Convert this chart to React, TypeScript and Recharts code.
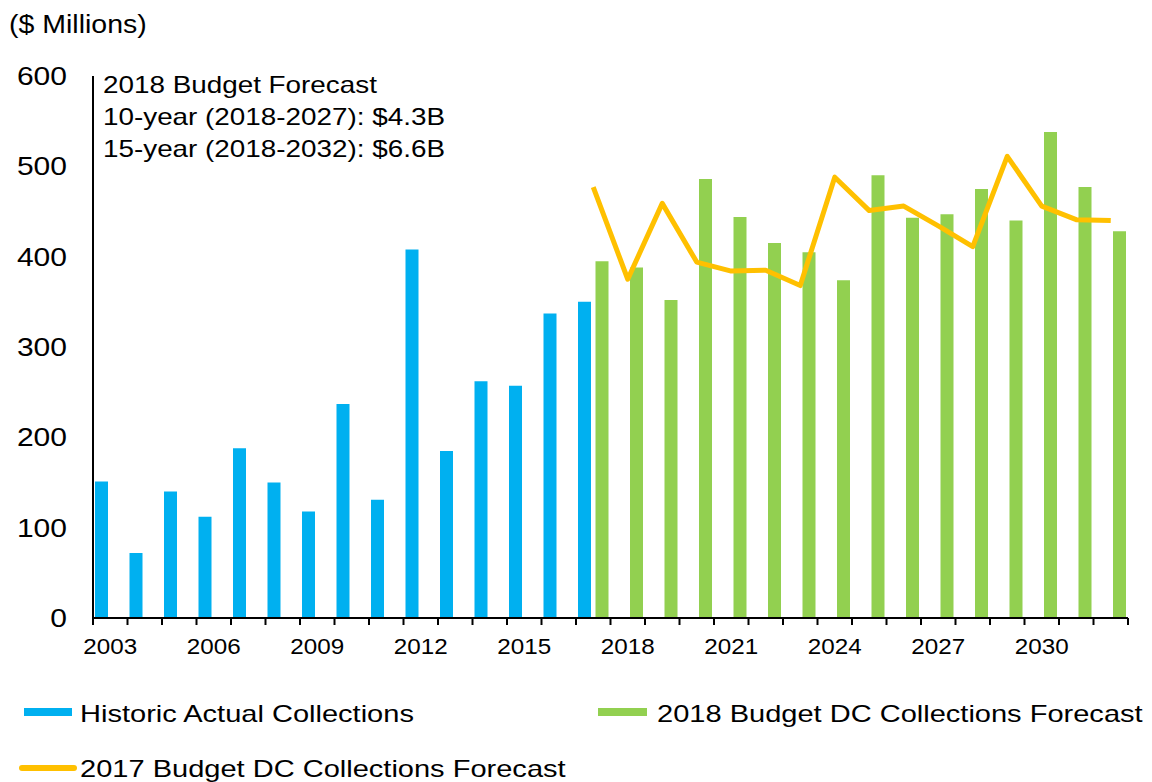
import { Bar, ComposedChart, Line, XAxis, YAxis } from 'recharts';

const years = [
  '2003', '2004', '2005', '2006', '2007', '2008', '2009', '2010', '2011', '2012',
  '2013', '2014', '2015', '2016', '2017', '2018', '2019', '2020', '2021', '2022',
  '2023', '2024', '2025', '2026', '2027', '2028', '2029', '2030', '2031', '2032',
];

// 2003 - 2017
const historic = [151, 72, 140, 112, 188, 150, 118, 237, 131, 408, 185, 262, 257, 337, 350];
// 2017 - 2032
const forecast2018 = [395, 388, 352, 486, 444, 415, 405, 374, 490, 443, 447, 475, 440, 538, 477, 428];
const forecast2017 = [477, 375, 459, 394, 384, 385, 368, 488, 451, 456, 434, 411, 511, 456, 441, 440];
const forecastStart = '2017';

const yTicks = [0, 100, 200, 300, 400, 500, 600];
const labelEvery = 3;

const annotation = ['2018 Budget Forecast', '10-year (2018-2027): $4.3B', '15-year (2018-2032): $6.6B'];

const legendItems = [
  { label: 'Historic Actual Collections', color: '#00B0F0', kind: 'bar' },
  { label: '2018 Budget DC Collections Forecast', color: '#92D050', kind: 'bar' },
  { label: '2017 Budget DC Collections Forecast', color: '#FFC000', kind: 'line' },
];

const start = years.indexOf(forecastStart);
const data = years.map((year, i) => ({
  year,
  historic: i < historic.length ? historic[i] : null,
  f2018: i >= start ? forecast2018[i - start] : null,
  f2017: i >= start ? forecast2017[i - start] : null,
}));

const FONT = '"Liberation Sans", Arial, sans-serif';
const W = 1152;
const TOP = 76;
const PLOT_H = 542;
const Y_AXIS_W = 93;
const RIGHT = 24;
const X_AXIS_H = 42;
const PLOT_BOTTOM = TOP + PLOT_H;
const BAND = (W - Y_AXIS_W - RIGHT) / years.length;

function XTick({ x, payload, index }: any) {
  const i = index ?? payload.index;
  const left = x - BAND / 2;
  return (
    <g>
      <line x1={left} x2={left} y1={PLOT_BOTTOM} y2={PLOT_BOTTOM + 7} stroke="#000" strokeWidth={2} />
      {i === years.length - 1 && (
        <line x1={x + BAND / 2} x2={x + BAND / 2} y1={PLOT_BOTTOM} y2={PLOT_BOTTOM + 7} stroke="#000" strokeWidth={2} />
      )}
      {i % labelEvery === 0 && (
        <text
          transform={`translate(${x},654) scale(1.1,1)`}
          textAnchor="middle"
          fontSize={22}
          fontFamily={FONT}
          fill="#000"
        >
          {payload.value}
        </text>
      )}
    </g>
  );
}

function YTick({ y, payload }: any) {
  return (
    <text
      transform={`translate(67,${y + 9}) scale(1.2,1)`}
      textAnchor="end"
      fontSize={25}
      fontFamily={FONT}
      fill="#000"
    >
      {payload.value}
    </text>
  );
}

function Overlay() {
  return (
    <svg width={W} height={782} style={{ position: 'absolute', left: 0, top: 0, pointerEvents: 'none' }}>
      <text transform="translate(9,33) scale(1.14,1)" fontSize={25} fontFamily={FONT} fill="#000">
        ($ Millions)
      </text>
      {annotation.map((line, i) => (
        <text
          key={line}
          transform={`translate(103,${93 + i * 32}) scale(1.16,1)`}
          fontSize={24}
          fontFamily={FONT}
          fill="#000"
        >
          {line}
        </text>
      ))}
      {/* legend */}
      <rect x={24} y={708} width={48} height={8} fill={legendItems[0].color} />
      <text transform="translate(80,722) scale(1.21,1)" fontSize={24} fontFamily={FONT} fill="#000">
        {legendItems[0].label}
      </text>
      <rect x={598} y={708} width={49} height={8} fill={legendItems[1].color} />
      <text transform="translate(657,722) scale(1.21,1)" fontSize={24} fontFamily={FONT} fill="#000">
        {legendItems[1].label}
      </text>
      <line x1={22} x2={74} y1={768} y2={768} stroke={legendItems[2].color} strokeWidth={6} strokeLinecap="round" />
      <text transform="translate(80,777) scale(1.21,1)" fontSize={24} fontFamily={FONT} fill="#000">
        {legendItems[2].label}
      </text>
    </svg>
  );
}

export default function App() {
  return (
    <div style={{ position: 'absolute', left: 0, top: 0, width: W, height: 782, background: '#fff' }}>
      <ComposedChart
        width={W}
        height={TOP + PLOT_H + X_AXIS_H}
        data={data}
        margin={{ top: TOP, right: RIGHT, bottom: 0, left: 0 }}
        barGap={4.5}
      >
        <XAxis
          dataKey="year"
          interval={0}
          height={X_AXIS_H}
          tickLine={false}
          axisLine={{ stroke: '#000', strokeWidth: 2 }}
          tick={<XTick />}
        />
        <YAxis
          width={Y_AXIS_W}
          domain={[0, 600]}
          ticks={yTicks}
          tickLine={false}
          axisLine={{ stroke: '#000', strokeWidth: 2 }}
          tick={<YTick />}
        />
        <Bar dataKey="historic" fill="#00B0F0" barSize={13} isAnimationActive={false} />
        <Bar dataKey="f2018" fill="#92D050" barSize={13} isAnimationActive={false} />
        <Line
          dataKey="f2017"
          stroke="#FFC000"
          strokeWidth={5}
          strokeLinejoin="round"
          dot={false}
          activeDot={false}
          isAnimationActive={false}
        />
      </ComposedChart>
      <Overlay />
    </div>
  );
}
